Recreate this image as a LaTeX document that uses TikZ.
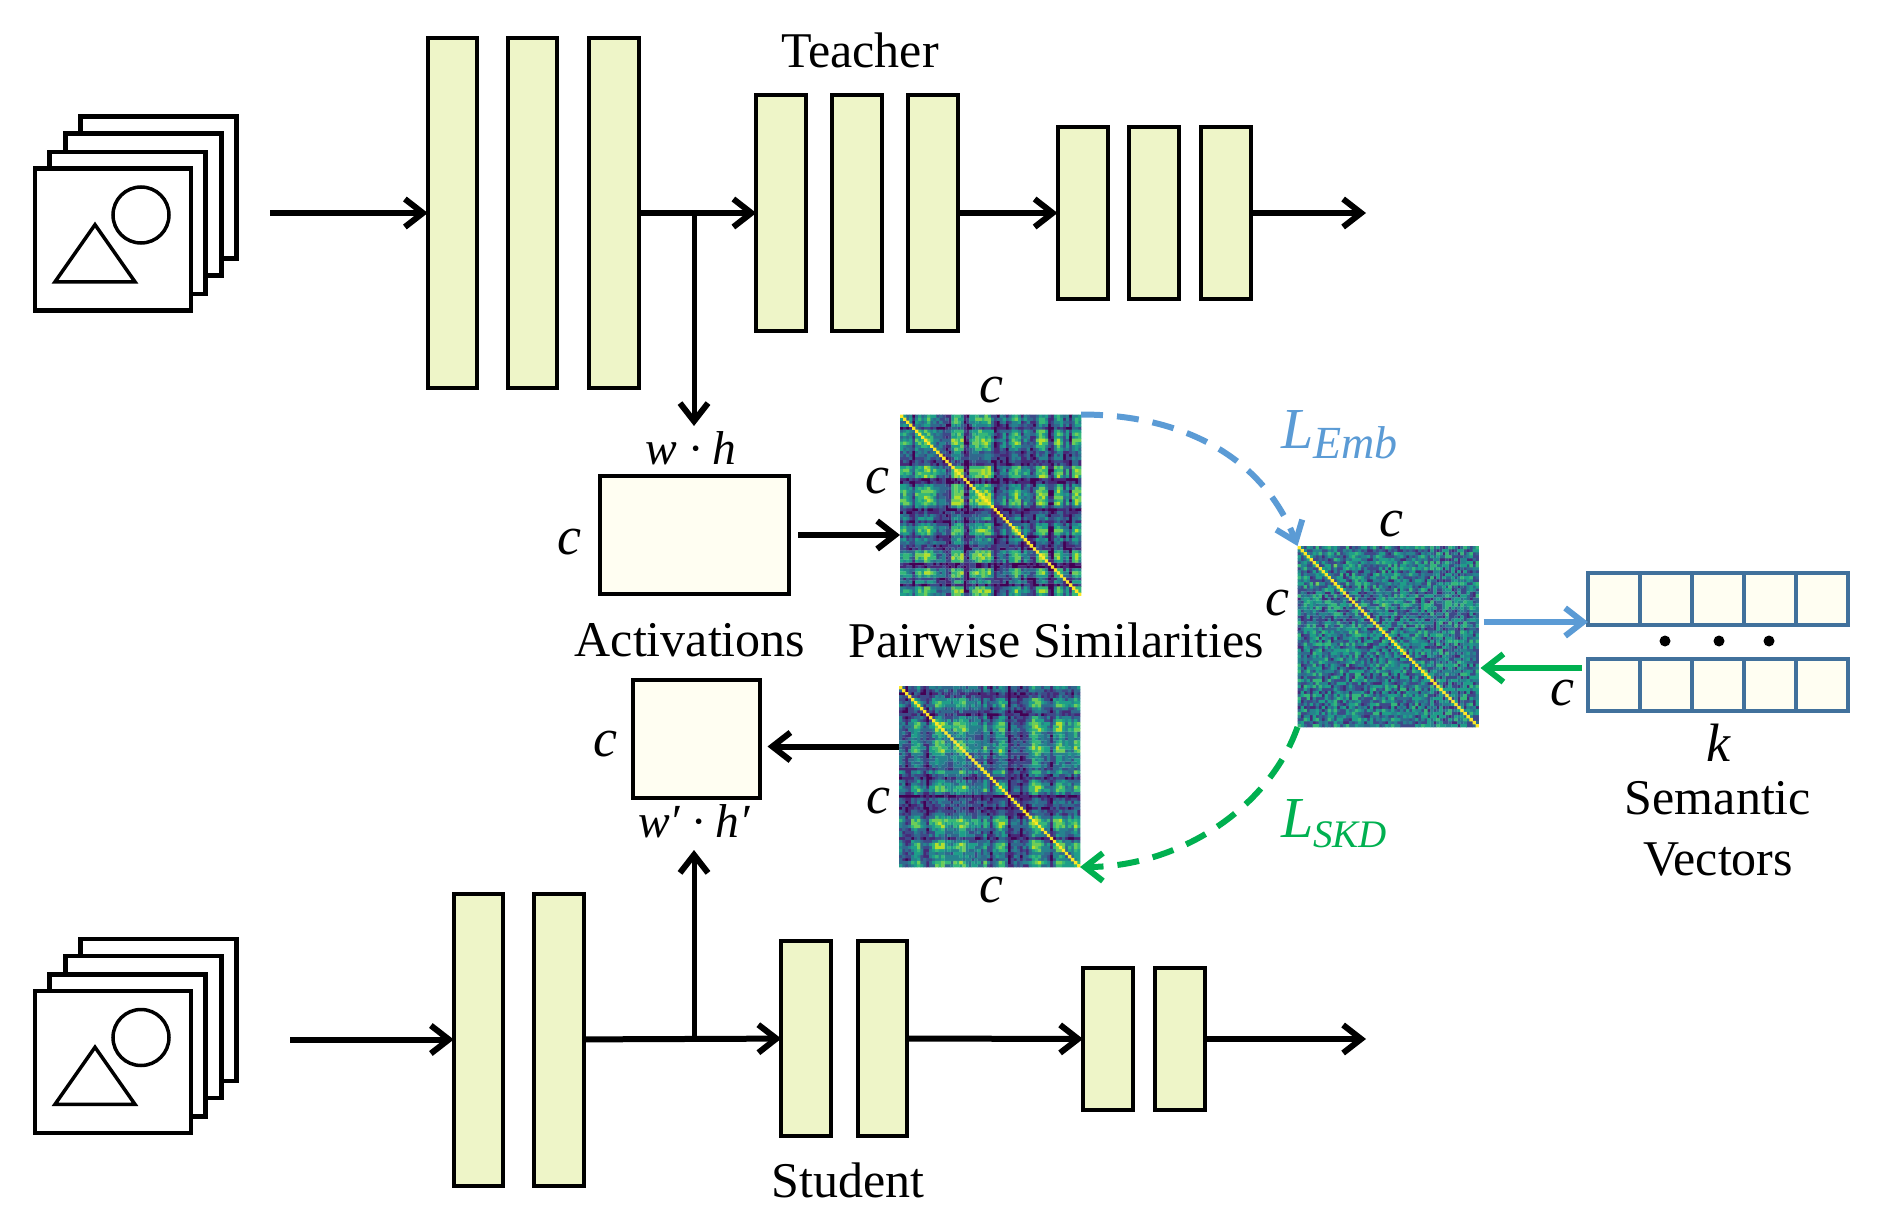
\documentclass[tikz,border=0pt]{standalone}
\usepackage{fontspec}
\setmainfont{Liberation Serif}
\usetikzlibrary{arrows.meta, shapes.geometric}
\definecolor{barfill}{HTML}{EEF5C8}
\definecolor{boxfill}{HTML}{FFFEF2}
\definecolor{vecline}{HTML}{41719C}
\definecolor{embblue}{HTML}{5B9BD5}
\definecolor{skdgreen}{HTML}{00B050}
\definecolor{vir0}{HTML}{440154}
\definecolor{vir1}{HTML}{482878}
\definecolor{vir2}{HTML}{3E4989}
\definecolor{vir3}{HTML}{31688E}
\definecolor{vir4}{HTML}{26828E}
\definecolor{vir5}{HTML}{1F9E89}
\definecolor{vir6}{HTML}{35B779}
\definecolor{vir7}{HTML}{6DCD59}
\definecolor{vir8}{HTML}{B4DE2C}
\definecolor{vir9}{HTML}{FDE725}
\tikzset{
    bar/.style={rectangle, draw=black, fill=barfill, line width=4pt, minimum width=49.5pt, inner sep=0pt, outer sep=0pt},
    page/.style={rectangle, draw=black, fill=white, line width=4.5pt, minimum width=156pt, minimum height=142pt, inner sep=0pt, outer sep=0pt},
    actbox/.style={rectangle, draw=black, fill=boxfill, line width=4pt, inner sep=0pt, outer sep=0pt},
    heat/.style={rectangle, minimum width=181pt, minimum height=181pt, inner sep=0pt, outer sep=0pt},
    vcell/.style={rectangle, draw=vecline, fill=boxfill, line width=4pt, minimum width=52pt, minimum height=52pt, inner sep=0pt, outer sep=0pt},
    caption/.style={font=\fontsize{50}{50}\selectfont, anchor=base, inner sep=0pt},
    dim/.style={font=\fontsize{54}{54}\selectfont\itshape, anchor=base, inner sep=0pt},
    size/.style={font=\fontsize{47.5}{47.5}\selectfont\itshape, anchor=base, inner sep=0pt},
    loss/.style={font=\fontsize{58}{58}\selectfont\itshape, anchor=base west, inner sep=0pt},
    arrow/.style={line width=6pt, -{Straight Barb[length=18pt,width=28pt,line width=6pt]}},
    lossarrow/.style={line width=6pt, dash pattern=on 22pt off 14pt, -{Straight Barb[length=18pt,width=28pt,line width=6pt]}}
}
% one filled path per colour level, the cells of a matrix are too many for single fills
\newcount\hmi
\newcount\hmj
\newcount\hmlev
\newcount\hmval
\newcount\hmhash
\newcount\hmnoise
\newdimen\hmstep
\hmstep=3.017pt
\def\hmcell{%
    \hmhash=\numexpr((\hmi+5)*(\hmj+5)*(\hmi+\hmj+11)+(\hmi-\hmj)*(\hmi-\hmj)*17)/23\relax
    \hmval=\numexpr(\csname hp\the\hmi\endcsname*\csname hp\the\hmj\endcsname+1)/10+\hmhash-\hmhash/\hmnoise*\hmnoise\relax
    \ifnum\hmval<0 \hmval=0 \fi
    \ifnum\hmval>8 \hmval=8 \fi
    \ifnum\hmi=\hmj \hmval=9 \fi
    \ifnum\hmval=\hmlev
        \pgfpathrectangle{\pgfqpoint{\hmi\hmstep}{-\hmj\hmstep}}{\pgfqpoint{3.3pt}{-3.3pt}}%
    \fi}
\def\hmcol{\hmcell \advance\hmj by 1 \ifnum\hmj<60 \expandafter\hmcol\fi}
\def\hmrow{\hmj=0 \hmcol \advance\hmi by 1 \ifnum\hmi<60 \expandafter\hmrow\fi}
\newcommand{\heatmap}[3]{
    \foreach \v [count=\n from 0] in {#3} {\expandafter\xdef\csname hp\n\endcsname{\v}}
    \hmnoise=#2
    \begin{scope}[shift={(#1.north west)}]
        \foreach \l in {0,...,9} {
            \begin{pgfscope}
                \pgfsetfillcolor{vir\l}
                \hmlev=\l
                \hmi=0
                \hmrow
                \pgfusepath{fill}
            \end{pgfscope}
        }
    \end{scope}
}

\begin{document}
\begin{tikzpicture}[x=1pt, y=-1pt, node distance=80pt]
    \useasboundingbox (0,0) rectangle (1880,1225);

    % image stacks
    \foreach \dy/\nm in {0/t,822.5/s} {
        \node (\nm pg4) [page] at (158.5,187.5+\dy) {};
        \node (\nm pg3) [page] at (143.5,204.5+\dy) {};
        \node (\nm pg2) [page] at (127.5,223+\dy) {};
        \node (\nm pg1) [page] at (113,239.5+\dy) {};
        \node (\nm circ) [circle, draw=black, line width=3.5pt, minimum size=56pt, inner sep=0pt] at (141,215+\dy) {};
        \node (\nm tri) [draw=black, line width=3.5pt, isosceles triangle, isosceles triangle apex angle=70, shape border rotate=90, minimum width=80pt, inner sep=0pt] at (95,261+\dy) {};
    }

    % teacher
    \node (tb1) [bar, minimum height=350pt] at (452.5,213) {};
    \node (tb2) [bar, minimum height=350pt, right of=tb1] {};
    \node (tb3) [bar, minimum height=350pt, minimum width=50pt, right of=tb2, xshift=1pt] {};
    \node (ta1) [bar, minimum height=235pt] at (781,213) {};
    \node (ta2) [bar, minimum height=235pt, right of=ta1, node distance=76pt] {};
    \node (ta3) [bar, minimum height=235pt, right of=ta2, node distance=76pt] {};
    \node (tc1) [bar, minimum height=171pt, minimum width=50pt] at (1082.5,213) {};
    \node (tc2) [bar, minimum height=171pt, minimum width=50pt, right of=tc1, node distance=71.5pt] {};
    \node (tc3) [bar, minimum height=171pt, minimum width=50pt, right of=tc2, node distance=72pt] {};
    \node (teacher) [caption] at (860,68) {Teacher};

    % student
    \node (sb1) [bar, minimum height=292pt] at (478.5,1039.5) {};
    \node (sb2) [bar, minimum height=292pt, right of=sb1, node distance=80.5pt] {};
    \node (sa1) [bar, minimum height=195pt] at (806,1038.5) {};
    \node (sa2) [bar, minimum height=195pt, right of=sa1, node distance=76.5pt] {};
    \node (sc1) [bar, minimum height=142pt, minimum width=50pt] at (1108,1039) {};
    \node (sc2) [bar, minimum height=142pt, minimum width=50pt, right of=sc1, node distance=72pt] {};
    \node (student) [caption] at (848,1197) {Student};

    % activations
    \node (abox) [actbox, minimum width=189pt, minimum height=118pt] at (694.5,535) {};
    \node (bbox) [actbox, minimum width=127pt, minimum height=118pt] at (696,738.5) {};
    \node (wh) [size] at (691,464) {w · h};
    \node (whs) [size] at (694,837) {w′ · h′};
    \node (cact) [dim] at (569,554) {c};
    \node (cbox) [dim] at (605,756) {c};
    \node (acttext) [caption] at (690,656) {Activations};
    \node (pairtext) [caption] at (1056,657) {Pairwise Similarities};

    % similarity matrices
    \node (hmT) [heat] at (990.5,505) {};
    \node (hmS) [heat] at (989.5,776.5) {};
    \node (hmC) [heat] at (1388,636.5) {};
    \heatmap{hmT}{3}{6,7,6,5,2,7,7,7,8,8,7,6,4,4,4,2,2,8,9,9,8,1,1,6,7,8,8,8,9,9,5,1,2,4,5,2,5,7,8,7,3,5,4,2,2,7,8,8,7,1,1,7,8,7,3,5,1,7,8,7}
    \heatmap{hmS}{3}{5,4,2,3,6,7,7,5,3,2,5,6,8,8,8,6,6,5,7,7,8,8,6,5,5,5,5,3,7,4,2,5,6,8,8,5,0,3,4,3,2,3,3,6,9,9,8,6,5,5,2,6,8,8,7,5,6,5,8,7}
    \heatmap{hmC}{5}{6,5,6,6,5,6,7,6,5,6,6,5,7,6,6,5,6,5,6,7,6,5,6,6,5,6,6,5,7,6,5,6,6,5,6,6,5,6,7,6,5,6,6,5,6,5,6,6,5,6,6,5,6,5,6,6,5,6,5,6}
    \node (chT) [dim] at (991,402) {c};
    \node (cvT) [dim] at (877,493) {c};
    \node (cvS) [dim] at (878,813) {c};
    \node (chS) [dim] at (991,902) {c};
    \node (chC) [dim] at (1391,536) {c};
    \node (cvC) [dim] at (1277,615) {c};

    % semantic vectors
    \foreach \n in {0,...,4} {
        \node (vu\n) [vcell] at (1614+52*\n,598.5) {};
        \node (vd\n) [vcell] at (1614+52*\n,684.5) {};
    }
    \node (dot1) [circle, fill=black, minimum size=11pt, inner sep=0pt] at (1665,641) {};
    \node (dot2) [circle, fill=black, minimum size=11pt, inner sep=0pt] at (1719,641) {};
    \node (dot3) [circle, fill=black, minimum size=11pt, inner sep=0pt] at (1769,641) {};
    \node (cvec) [dim] at (1562,705) {c};
    \node (kvec) [dim] at (1718,761) {k};
    \node (semtext) [caption] at (1718,814) {Semantic};
    \node (vectext) [caption] at (1718,875) {Vectors};

    \node (lemb) [loss, text=embblue] at (1281,448) {L\raisebox{-10pt}{\fontsize{46}{46}\selectfont Emb}};
    \node (lskd) [loss, text=skdgreen] at (1281,837) {L\raisebox{-10pt}{\fontsize{39}{39}\selectfont SKD}};

    % connectors
    \coordinate (tin) at (270,213);
    \coordinate (sin) at (290,1039.5);
    \coordinate (tout) at (1366,213);
    \coordinate (sout) at (1366,1039);
    \coordinate (tjoin) at (694,213);
    \coordinate (tdown) at (694,426);
    \coordinate (sjoin) at (694,1039);
    \coordinate (sup) at (694,850);

    \draw [arrow] (tin) -- (tb1);
    \draw [arrow] (tb3) -- (ta1);
    \draw [arrow] (ta3) -- (tc1);
    \draw [arrow] (tc3) -- (tout);
    \draw [arrow, line width=5pt] (tjoin) -- (tdown);
    \draw [arrow] (sin) -- (sb1);
    \draw [arrow] (sb2) -- (sa1);
    \draw [arrow] (sa2) -- (sc1);
    \draw [arrow] (sc2) -- (sout);
    \draw [arrow, line width=5pt] (sjoin) -- (sup);
    \draw [arrow] ([xshift=9pt]abox.east) -- (abox.east -| hmT.west);
    \draw [arrow] ([yshift=-8pt]bbox.east -| hmS.west) -- ([xshift=8pt,yshift=-8pt]bbox.east);
    \draw [arrow, embblue] ([xshift=5pt,yshift=14.5pt]hmC.east) -- ([yshift=-23.5pt]vu0.west);
    \draw [arrow, skdgreen] ([xshift=-6pt,yshift=16.5pt]vd0.west) -- ([xshift=2pt,yshift=-31.5pt]hmC.east);
    \draw [lossarrow, embblue] (hmT.north east) .. controls +(100,0) and +(-35,-90) .. (hmC.north west);
    \draw [lossarrow, skdgreen] (hmC.south west) .. controls +(-28,80) and +(100,0) .. (hmS.south east);

\end{tikzpicture}
\end{document}
